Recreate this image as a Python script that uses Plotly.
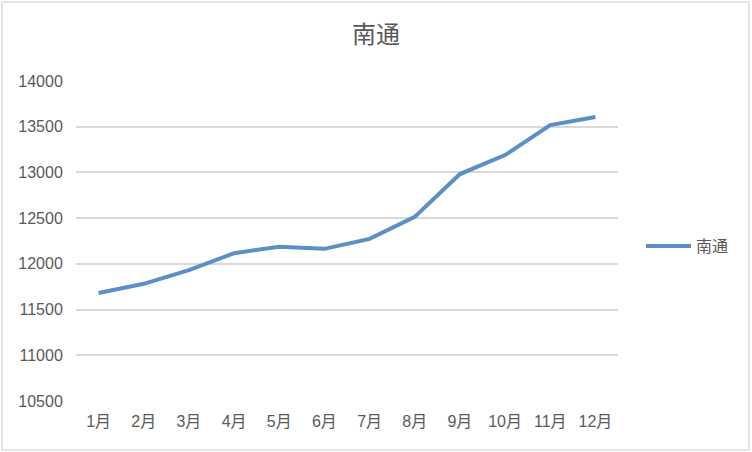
import plotly.graph_objects as go

months = ["1月", "2月", "3月", "4月", "5月", "6月", "7月", "8月", "9月", "10月", "11月", "12月"]
nantong = [11682, 11782, 11932, 12116, 12188, 12164, 12273, 12514, 12982, 13190, 13518, 13606]
y_ticks = [10500, 11000, 11500, 12000, 12500, 13000, 13500, 14000]
series_name = "南通"
title_text = "南通"

font_family = "Liberation Sans, Noto Sans CJK SC, sans-serif"
gray = "#595959"

fig = go.Figure()
fig.add_trace(go.Scatter(
    x=months, y=nantong, mode="lines", name=series_name,
    line=dict(color="#5B8FC6", width=4),
))

fig.update_layout(
    width=752, height=452,
    paper_bgcolor="white", plot_bgcolor="white",
    margin=dict(l=76, r=134, t=81, b=51, autoexpand=False),
    title=dict(text=title_text, x=0.5, xanchor="center", y=1 - 35 / 452, yanchor="middle",
               font=dict(family=font_family, size=24, color=gray)),
    font=dict(family=font_family, color=gray),
    showlegend=True,
    legend=dict(x=1 + 23 / 542, xanchor="left", y=0.5 - 5 / 320, yanchor="middle",
                font=dict(family=font_family, size=16, color=gray),
                itemwidth=45, bgcolor="rgba(0,0,0,0)"),
    xaxis=dict(type="category", range=[-0.5, 11.5], showgrid=False, showline=False,
               zeroline=False, ticks="outside", ticklen=6, tickcolor="rgba(0,0,0,0)",
               automargin=False,
               tickfont=dict(family=font_family, size=16, color=gray)),
    yaxis=dict(range=[10500, 14000], tickvals=y_ticks, ticktext=[str(v) for v in y_ticks],
               showgrid=True, automargin=False,
               gridcolor="#D9D9D9", gridwidth=1.5, zeroline=False, showline=False,
               ticks="outside", ticklen=9, tickcolor="rgba(0,0,0,0)",
               tickfont=dict(family=font_family, size=16, color=gray)),
    shapes=[dict(type="rect", xref="paper", yref="paper", x0=-74/542, x1=1 + 131/542,
                 y0=-49/320, y1=1 + 79/320, line=dict(color="#DDDDDD", width=1.5))],
)

fig.write_html("out.html", config={"displayModeBar": False},
               post_script="document.body.style.margin='0';")
